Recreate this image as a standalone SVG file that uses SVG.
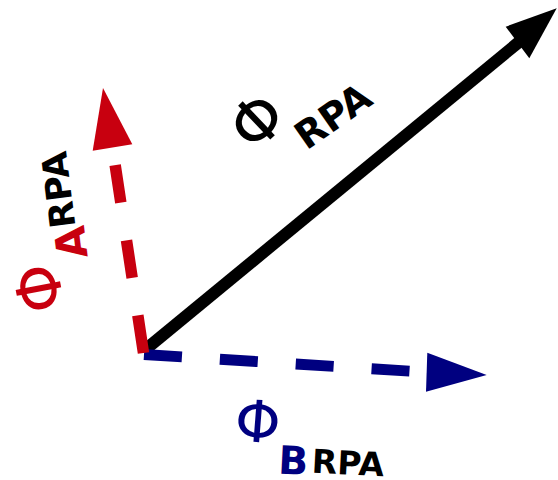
<svg xmlns="http://www.w3.org/2000/svg" width="558" height="480" viewBox="0 0 558 480">
  <style>
    .phi { font-family: "DejaVu Sans", sans-serif; text-anchor: middle; }
    .sub { font-family: "DejaVu Sans", sans-serif; font-weight: bold; text-anchor: middle; }
    .red { fill: #c8000f; }
    .blue { fill: #000080; }
    .blk { fill: #000000; }
  </style>
  <rect width="558" height="480" fill="#ffffff"/>
  <g id="connectors">
    <g id="phi-rpa-arrow">
      <line x1="146" y1="349" x2="519" y2="42" stroke="#000" stroke-width="12"/>
      <polygon points="556.7,8.3 505.7,26.7 529.3,58.3" fill="#000"/>
    </g>
    <g id="phi-b-arrow">
      <line x1="144" y1="354.5" x2="426.7" y2="372.2" stroke="#000080" stroke-width="11" stroke-dasharray="38 38"/>
      <polygon points="486.7,375 427.3,352.7 426,391.7" fill="#000080"/>
    </g>
    <g id="phi-a-arrow">
      <line x1="143.5" y1="353" x2="112.5" y2="147.5" stroke="#c8000f" stroke-width="11.5" stroke-dasharray="38 38"/>
      <polygon points="103,88 92.7,150.7 132.3,144.3" fill="#c8000f"/>
    </g>
  </g>
  <g id="label-rpa">
    <text class="phi blk" font-size="64" transform="translate(256.5,120.5) rotate(-43.5)" y="23.3">Φ</text>
    <text class="sub blk" font-size="38" transform="translate(332.5,115.5) rotate(-35)" y="13.9">RPA</text>
  </g>
  <g id="label-a">
    <text class="phi red" font-size="62" transform="translate(38.5,288.5) rotate(-101)" y="22.6">Φ</text>
    <text class="sub red" font-size="42" transform="translate(70.5,242.5) rotate(-97)" y="15.3">A</text>
    <text class="sub blk" font-size="35" transform="translate(58,190) rotate(-97)" y="12.8">RPA</text>
  </g>
  <g id="label-b">
    <text class="phi blue" font-size="58" transform="translate(258,421) rotate(4.5)" y="21.1">Φ</text>
    <text class="sub blue" font-size="39" transform="translate(293.3,460) rotate(3)" y="14.2">B</text>
    <text class="sub blk" font-size="33" transform="translate(348,462.5) rotate(3)" y="12">RPA</text>
  </g>
</svg>
